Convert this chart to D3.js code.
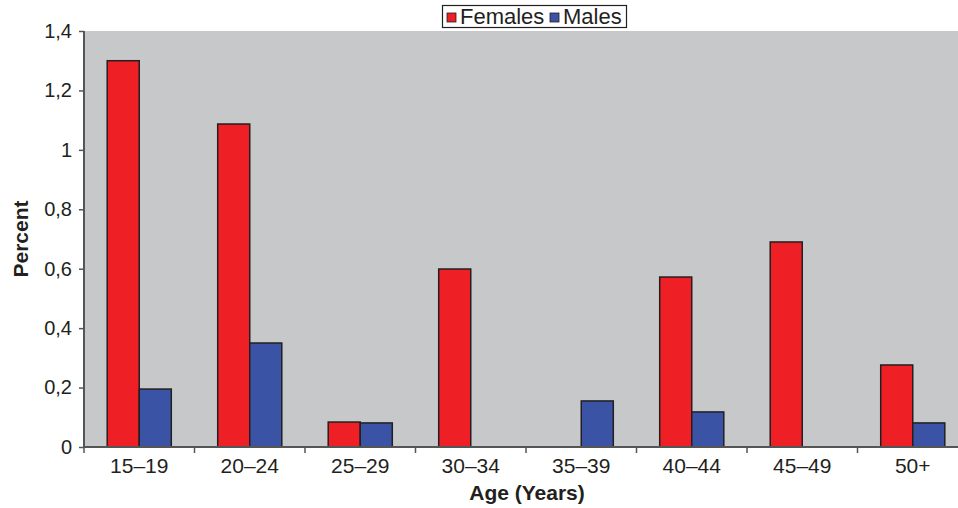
<!DOCTYPE html>
<html>
<head>
<meta charset="utf-8">
<script src="https://cdn.jsdelivr.net/npm/d3@7"></script>
<style>
  body { margin: 0; background: #fff; }
  svg { display: block; font-family: "Liberation Sans", Arial, sans-serif; }
</style>
</head>
<body>
<div id="chart"></div>
<script>
const ageGroups = ["15–19", "20–24", "25–29", "30–34", "35–39", "40–44", "45–49", "50+"];
const femaleValues = [1.30, 1.087, 0.084, 0.599, 0, 0.572, 0.69, 0.276];
const maleValues = [0.195, 0.35, 0.081, 0, 0.155, 0.118, 0, 0.081];
const seriesNames = ["Females", "Males"];
const yTicks = [0, 0.2, 0.4, 0.6, 0.8, 1, 1.2, 1.4];

const width = 958, height = 508;
const plotLeft = 84, plotTop = 31, plotBottom = 447, plotRight = 968;

const svg = d3.select("#chart")
    .append("svg")
    .attr("width", width)
    .attr("height", height);

const x = d3.scaleBand()
    .domain(ageGroups)
    .range([plotLeft, plotRight])
    .paddingInner(0.42)
    .paddingOuter(0.21);

const xSeries = d3.scaleBand()
    .domain(seriesNames)
    .range([0, x.bandwidth()]);

const y = d3.scaleLinear()
    .domain([0, 1.4])
    .range([plotBottom, plotTop]);

const color = d3.scaleOrdinal()
    .domain(seriesNames)
    .range(["#ee1f25", "#3a53a4"]);

// plot background
svg.append("rect")
    .attr("x", plotLeft)
    .attr("y", plotTop)
    .attr("width", plotRight - plotLeft)
    .attr("height", plotBottom - plotTop)
    .attr("fill", "#c7c8ca");

const rows = ageGroups.map((g, i) => ({
    group: g,
    values: [
        { name: "Females", value: femaleValues[i] },
        { name: "Males", value: maleValues[i] }
    ]
}));

const groups = svg.append("g")
    .selectAll("g")
    .data(rows)
    .join("g")
    .attr("transform", d => `translate(${x(d.group)},0)`);

groups.selectAll("rect")
    .data(d => d.values.filter(v => v.value > 0))
    .join("rect")
    .attr("x", d => xSeries(d.name))
    .attr("y", d => y(d.value))
    .attr("width", xSeries.bandwidth())
    .attr("height", d => y(0) - y(d.value))
    .attr("fill", d => color(d.name))
    .attr("stroke", "#231f20")
    .attr("stroke-width", 1.5);

// y axis
const yAxis = svg.append("g")
    .attr("transform", `translate(${plotLeft},0)`)
    .call(d3.axisLeft(y)
        .tickValues(yTicks)
        .tickSize(5)
        .tickPadding(7)
        .tickFormat(d => String(+d.toFixed(1)).replace(".", ",")));
yAxis.select(".domain").attr("stroke", "#555").attr("stroke-width", 2).attr("d", `M0,${plotTop}V${plotBottom}`);
yAxis.selectAll(".tick line").attr("stroke", "#555").attr("stroke-width", 1.5);
yAxis.selectAll(".tick text").attr("font-size", 20).attr("fill", "#231f20");

// x axis
const xAxis = svg.append("g")
    .attr("transform", `translate(0,${plotBottom})`)
    .call(d3.axisBottom(x).tickSize(0).tickPadding(11));
xAxis.select(".domain").attr("stroke", "#555").attr("stroke-width", 2).attr("d", `M${plotLeft},0H${plotRight}`);
xAxis.selectAll(".tick text").attr("font-size", 21).attr("fill", "#231f20");

const step = x.step();
svg.append("g")
    .selectAll("line")
    .data(d3.range(ageGroups.length + 1))
    .join("line")
    .attr("x1", i => plotLeft + i * step)
    .attr("x2", i => plotLeft + i * step)
    .attr("y1", plotBottom)
    .attr("y2", plotBottom + 6)
    .attr("stroke", "#555")
    .attr("stroke-width", 1.5);

// axis titles
svg.append("text")
    .attr("x", 527)
    .attr("y", 500)
    .attr("text-anchor", "middle")
    .attr("font-size", 21)
    .attr("font-weight", "bold")
    .attr("fill", "#231f20")
    .text("Age (Years)");

svg.append("text")
    .attr("transform", `translate(28,${(plotTop + plotBottom) / 2}) rotate(-90)`)
    .attr("text-anchor", "middle")
    .attr("font-size", 21)
    .attr("font-weight", "bold")
    .attr("fill", "#231f20")
    .text("Percent");

// legend
const legend = svg.append("g");
legend.append("rect")
    .attr("x", 442.5)
    .attr("y", 5.5)
    .attr("width", 184)
    .attr("height", 22)
    .attr("fill", "#fff")
    .attr("stroke", "#231f20")
    .attr("stroke-width", 1.2);

const legendX = [447, 550];
seriesNames.forEach((name, i) => {
    legend.append("rect")
        .attr("x", legendX[i])
        .attr("y", 13)
        .attr("width", 9)
        .attr("height", 9)
        .attr("fill", color(name))
        .attr("stroke", "#231f20")
        .attr("stroke-width", 0.8);
    legend.append("text")
        .attr("x", legendX[i] + 13)
        .attr("y", 23.5)
        .attr("font-size", 22)
        .attr("fill", "#231f20")
        .text(name);
});
</script>
</body>
</html>
